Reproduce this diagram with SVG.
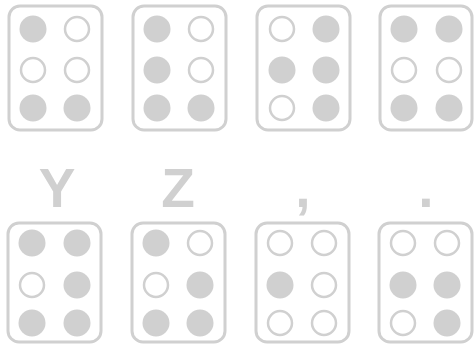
<svg xmlns="http://www.w3.org/2000/svg" width="474" height="345" viewBox="0 0 474 345">
<style>
.card{fill:none;stroke:#d0d0d0;stroke-width:3}
.f{fill:#d0d0d0}
.o{fill:#fff;stroke:#d0d0d0;stroke-width:2.5}
.lbl{font-family:"Liberation Sans",Arial,sans-serif;font-weight:bold;font-size:55px;fill:#d0d0d0;text-anchor:middle}
</style>
<rect width="474" height="345" fill="#fff"/>
<g id="cell1">
<rect class="card" x="9" y="6" width="93" height="124" rx="11"/>
<circle class="f" cx="33" cy="29" r="13.5"/><circle class="o" cx="77" cy="29" r="12"/>
<circle class="o" cx="33" cy="70" r="12"/><circle class="o" cx="77" cy="70" r="12"/>
<circle class="f" cx="33" cy="108" r="13.5"/><circle class="f" cx="77" cy="108" r="13.5"/>
</g>
<g id="cell2">
<rect class="card" x="133" y="6" width="93" height="124" rx="11"/>
<circle class="f" cx="157" cy="29" r="13.5"/><circle class="o" cx="201" cy="29" r="12"/>
<circle class="f" cx="157" cy="70" r="13.5"/><circle class="o" cx="201" cy="70" r="12"/>
<circle class="f" cx="157" cy="108" r="13.5"/><circle class="f" cx="201" cy="108" r="13.5"/>
</g>
<g id="cell3">
<rect class="card" x="257" y="6" width="93" height="124" rx="11"/>
<circle class="o" cx="282" cy="29" r="12"/><circle class="f" cx="326" cy="29" r="13.5"/>
<circle class="f" cx="282" cy="70" r="13.5"/><circle class="f" cx="326" cy="70" r="13.5"/>
<circle class="o" cx="282" cy="108" r="12"/><circle class="f" cx="326" cy="108" r="13.5"/>
</g>
<g id="cell4">
<rect class="card" x="380" y="6" width="92" height="124" rx="11"/>
<circle class="f" cx="404" cy="29" r="13.5"/><circle class="f" cx="449" cy="29" r="13.5"/>
<circle class="o" cx="404" cy="70" r="12"/><circle class="o" cx="449" cy="70" r="12"/>
<circle class="f" cx="404" cy="108" r="13.5"/><circle class="f" cx="449" cy="108" r="13.5"/>
</g>
<g id="cellY">
<text class="lbl" x="57" y="207">Y</text>
<rect class="card" x="8" y="223" width="93" height="119" rx="11"/>
<circle class="f" cx="32" cy="243" r="13.5"/><circle class="f" cx="77" cy="243" r="13.5"/>
<circle class="o" cx="32" cy="285" r="12"/><circle class="f" cx="77" cy="285" r="13.5"/>
<circle class="f" cx="32" cy="323" r="13.5"/><circle class="f" cx="77" cy="323" r="13.5"/>
</g>
<g id="cellZ">
<text class="lbl" x="178" y="207">Z</text>
<rect class="card" x="132" y="223" width="93" height="119" rx="11"/>
<circle class="f" cx="156" cy="243" r="13.5"/><circle class="o" cx="200" cy="243" r="12"/>
<circle class="o" cx="156" cy="285" r="12"/><circle class="f" cx="200" cy="285" r="13.5"/>
<circle class="f" cx="156" cy="323" r="13.5"/><circle class="f" cx="200" cy="323" r="13.5"/>
</g>
<g id="cellComma">
<text class="lbl" x="303" y="207">,</text>
<rect class="card" x="256" y="223" width="93" height="119" rx="11"/>
<circle class="o" cx="280" cy="243" r="12"/><circle class="o" cx="324" cy="243" r="12"/>
<circle class="f" cx="280" cy="285" r="13.5"/><circle class="o" cx="324" cy="285" r="12"/>
<circle class="o" cx="280" cy="323" r="12"/><circle class="o" cx="324" cy="323" r="12"/>
</g>
<g id="cellPeriod">
<text class="lbl" x="426" y="207">.</text>
<rect class="card" x="379" y="223" width="93" height="119" rx="11"/>
<circle class="o" cx="403" cy="243" r="12"/><circle class="o" cx="447" cy="243" r="12"/>
<circle class="f" cx="403" cy="285" r="13.5"/><circle class="f" cx="447" cy="285" r="13.5"/>
<circle class="o" cx="403" cy="323" r="12"/><circle class="f" cx="447" cy="323" r="13.5"/>
</g>
</svg>
